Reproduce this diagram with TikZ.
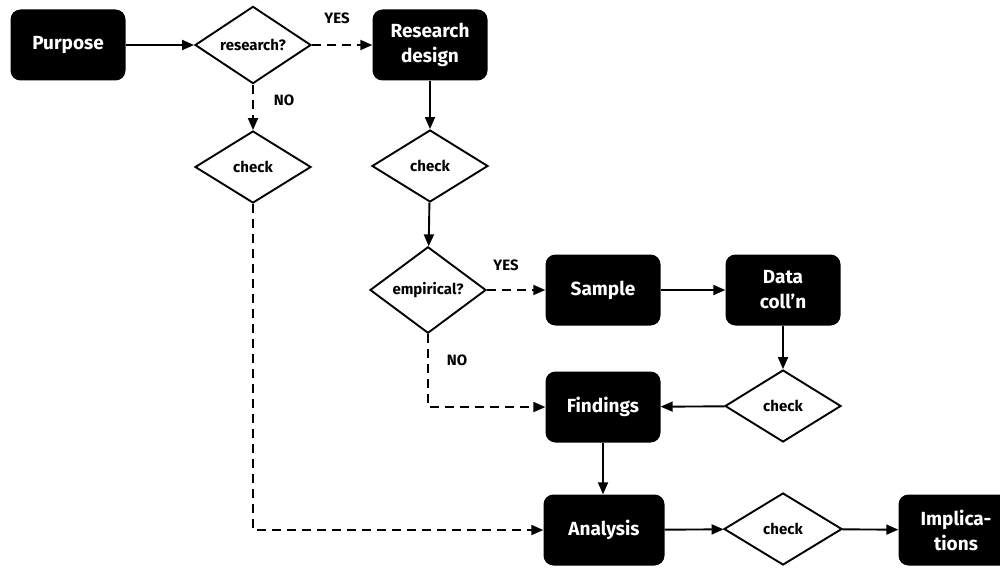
\documentclass[tikz,border=0pt]{standalone}
\usepackage{fontspec}
\setmainfont{Fira Sans}
\usetikzlibrary{shapes.geometric,arrows.meta}
\begin{document}
\begin{tikzpicture}[x=1pt,y=-1pt,
  box/.style={rectangle,rounded corners=10pt,fill=black,text=white,minimum width=115pt,minimum height=71pt,align=center,font=\fontsize{19}{25}\selectfont\bfseries,inner sep=0pt},
  dia/.style={diamond,draw=black,line width=1.9pt,fill=white,minimum width=116pt,minimum height=72pt,inner sep=0pt,font=\fontsize{15}{17}\selectfont\bfseries},
  lab/.style={font=\fontsize{15}{17}\selectfont\bfseries},
  con/.style={line width=1.9pt,-{Triangle[length=12pt,width=10pt]}},
  dsh/.style={con,dash pattern=on 9pt off 6pt}]
\useasboundingbox (0,0) rectangle (1000,567);
\fill[white] (0,0) rectangle (1000,567);
\node[box] (purpose) at (68,45) {Purpose};
\node[dia] (research) at (253,45) {research?};
\node[box] (design) at (430,45) {Research\\design};
\node[dia] (check1) at (253,167) {check};
\node[dia] (check2) at (430,166) {check};
\node[dia] (empirical) at (428,290) {empirical?};
\node[box] (sample) at (603,290) {Sample};
\node[box] (data) at (783,290) {Data\\coll’n};
\node[dia] (check3) at (783,406) {check};
\node[box] (findings) at (603,407) {Findings};
\node[box,minimum width=121pt] (analysis) at (604,530) {Analysis};
\node[dia,minimum width=118pt] (check4) at (783,529) {check};
\node[box] (impl) at (956,530) {Implica-\\tions};
\node[lab] (yes1) at (337,18) {YES};
\node[lab] (no1) at (284,100) {NO};
\node[lab] (yes2) at (506,265) {YES};
\node[lab] (no2) at (457,360) {NO};
\draw[con] (purpose) -- (research);
\draw[dsh] (research) -- (design);
\draw[dsh] (research) -- (check1);
\draw[con] (design) -- (check2);
\draw[con] (check2) -- (empirical);
\draw[dsh] (empirical) -- (sample);
\draw[con] (sample) -- (data);
\draw[con] (data) -- (check3);
\draw[con] (check3) -- (findings);
\draw[dsh] (empirical.south) |- (findings.west);
\draw[con] (findings) -- (findings|-analysis.north);
\draw[dsh] (check1.south) |- (analysis.west);
\draw[con] (analysis) -- (check4);
\draw[con] (check4) -- (impl);
\end{tikzpicture}
\end{document}
